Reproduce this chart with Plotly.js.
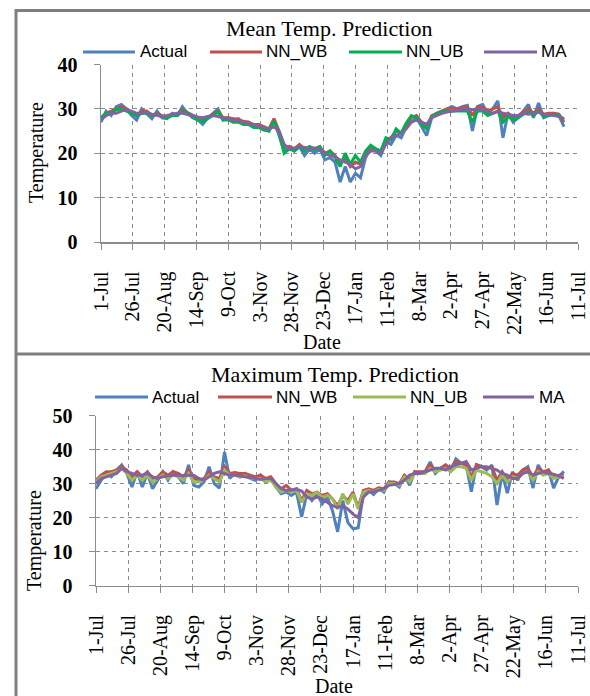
<!DOCTYPE html>
<html>
<head>
<meta charset="utf-8">
<script src="https://cdn.plot.ly/plotly-3.0.1.min.js"></script>
<style>
html,body{margin:0;padding:0;background:#fff;}
#chart{width:590px;height:696px;}
</style>
</head>
<body>
<div id="chart"></div>
<script>
// ---------- DATA (one sample every 4 days from 1-Jul) ----------
const START_DATE = '2010-07-01';
const STEP_DAYS = 4;
const seriesNames = ['Actual', 'NN_WB', 'NN_UB', 'MA'];
const tickStart = '2010-07-01';
const tickEnd = '2011-07-11';
const tickStepDays = 25;

// Mean temperature panel
const meanActual = [27,29.5,28.5,30.5,31,30,28.5,27.5,30,29,27.8,29.5,28,27.8,29,28.5,30.5,29,28,27.5,26.5,28,29,30,27.5,28,27.5,27.8,26.8,27,26,26.5,25.5,25,27.5,24,20.5,21.5,20.5,21.5,19.5,21,20,21,18.5,19,18,13.5,17,13.5,15.5,14.5,19,21,20.5,19.5,22.5,22,24,23.5,26,27,28,26,24,28,29,29.5,30,30.5,30,30.5,30.8,25,30.5,31,29,30,31.8,23.5,29,27,28,29.5,31,28,31.3,28,28.5,29,28.5,26];
const meanNNWB = [28,29,29.5,30,30.5,30,29,28.5,29.5,29.5,28.5,29,28.5,28,28.8,28.8,29.8,29.2,28.5,28,27.5,28,28.8,29.5,28,28,27.8,27.6,27.2,27,26.5,26.5,26,25.5,27.8,25,21.5,21.5,21,22,21,21.5,21,21.5,20,20.5,19.5,17.5,19,17,18,17.5,20,21.5,21,20.5,23,23.5,25,24.5,26.5,28,28.5,27,26,28.5,29,29.5,30,30.2,30,30.3,30.5,28.5,30.5,30.5,29.5,30,30.5,28,29,28,28.5,29.3,30,29,30,28.8,29,29,28.8,27];
const meanNNUB = [28,29,29,29.8,30,29.5,29,28.5,29,29,28.5,28.8,28.2,28,28.5,28.5,29.5,29,28.3,27.5,27.2,27.8,28.5,29.3,27.5,27.5,27,27,26.5,26.5,25.8,25.8,25.2,25,27.2,24.5,20,21,20.5,21.5,20.5,21.5,20.8,21.5,19.5,20.5,19,17,20,17.5,19.5,18,20.5,21.8,21,20.5,23.5,23,25.5,24.5,26.8,28.5,28,26.5,25.5,28.3,29,29.3,29.5,29.5,29.5,29.5,29.5,27,29.5,29.5,28.5,29,29.5,27,28.3,27.5,28,28.8,29.3,28.5,29.5,28.3,28.5,28.8,28.5,27.5];
const meanMA = [27.5,28.5,29,29,29.5,29.8,29.5,29,29,29.2,28.8,28.5,28.3,28.5,28.8,29,29,28.8,28.5,28.2,28,28.3,28.5,28.3,28,27.8,27.5,27.3,27,26.8,26.5,26.2,25.8,25.5,26,25,22,21,21.2,21.5,21.3,21,21.2,21,20,19.5,19.2,18.5,18,17.5,16.5,17,19.5,20.5,20.5,20,22,23.5,24,24.5,25.5,27,27.5,27,26.5,28,28.5,29,29.3,29.5,29.7,29.8,30,29.8,30,29.8,29.5,29,29.5,29,28.8,28.5,28.5,29,28.8,29,29.3,28.8,28.7,28.5,28.3,27.8];

// Maximum temperature panel
const maxActual = [28.5,31,33,32,34,35.5,33,29,33.5,29,33,28.5,31,33.5,31,33.5,32,30,35.5,29.5,29,30.5,35,30,28.7,39.3,31.5,33,32,33,31.5,31,32.5,30.5,31.5,29,27,27.5,26.5,27.5,20.2,27,25,27,24,26,22,15.8,25,18.5,16.7,17,27,28,26.8,28.5,27.5,30.5,30,29,32.5,29.5,33.5,33,33.5,36.4,33,34.5,35.5,34,37.3,36,35.5,27.6,35.6,35,34,35.5,23.7,33,27.2,33.5,31,34,35,28.7,35.5,33,34,28.7,32,33.6];
const maxNNWB = [31,32.5,33.5,33.5,34,35,34,32,33.5,32,33.5,31.5,32,33.5,32.5,33.5,33,32,34,31.5,31,31.5,33.5,32,31.5,35,33,33.3,33,33,32.5,32,32.5,31.5,32,30,28.5,29.5,28,28.5,25,28,27,27.5,26.5,27,25.5,23.5,26.5,25,27.5,23,28,28.5,28,28.8,28.5,30.5,30.5,30,32.5,31,33.5,33.5,33.5,35.5,34,34.5,35.5,34.5,36.5,36,35.5,32,35.5,35,34.5,35,31,33.5,31,33,32.5,34,34.5,32,34.5,33.5,34,32,32.5,32.5];
const maxNNUB = [30.5,32,32.5,33,33.5,34.5,33,31,32.5,31,32.5,30.5,31.5,32.5,31.5,32.5,32,31,33,30.5,30.5,31,32.5,31.5,30.5,34,32.5,32.5,32,32.3,31.5,31.5,31.5,30.5,31,29,27.5,28,27.5,28,24.5,27,26.5,27.5,26,26.5,25.5,22.5,27,24,27,22.5,27.5,28,27.5,28.3,28,30,30,29.5,32,30.5,33,33,33,34.5,33.5,34,34.5,33.5,35,35,34.5,31,34,33.5,33,32,30,32.5,30.5,32,31.5,33,33.5,31,33.5,32.5,33,31.5,32,32];
const maxMA = [30,31.5,32,32.5,33,34.5,33.5,33,32.5,32.5,33,32,31.5,32,32.3,32.5,32.5,32.3,32.5,32.5,31.5,31,32,33,33.5,33,32.5,32.5,32.3,32,31.8,31.5,31.2,31.5,31.5,30,28.5,28,28.2,28.3,27.8,26,25.5,26,25.5,24.5,23.5,23,23.5,22.5,21,20,26,27.5,27.5,28,28.5,29.5,29.8,30,31,32.5,33,33,33.5,34,34.5,34.5,34,35,35.5,36,36.5,34,34.5,35,35,34.5,34,33,32.5,31.5,31.5,33,33.5,32.5,33,33.5,33,32.8,32.3,31.5];

const meanYTicks = [0, 10, 20, 30, 40];
const maxYTicks = [0, 10, 20, 30, 40, 50];
const panelTitles = ['Mean Temp. Prediction', 'Maximum Temp. Prediction'];
const xTitle = 'Date';
const yTitle = 'Temperature';

// ---------- STYLE ----------
const W = 590, H = 696;
const colorsTop = ['#4F81BD', '#C0504D', '#00B050', '#8064A2'];
const colorsBottom = ['#4F81BD', '#C0504D', '#9BBB59', '#8064A2'];
const GRID = '#8c8c8c';
const SERIF = 'Liberation Serif, Times New Roman, serif';
const SANS = 'Liberation Sans, Arial, sans-serif';

function px(x) { return x / W; }
function py(y) { return 1 - y / H; }

const dates = meanActual.map((_, i) => {
  const t = Date.parse(START_DATE + 'T00:00:00Z') + i * STEP_DAYS * 86400000;
  return new Date(t).toISOString().slice(0, 10);
});

const topSeries = [meanActual, meanNNWB, meanNNUB, meanMA];
const botSeries = [maxActual, maxNNWB, maxNNUB, maxMA];

const traces = [];
topSeries.forEach((ys, k) => traces.push({
  type: 'scatter', mode: 'lines', name: seriesNames[k], x: dates, y: ys,
  xaxis: 'x', yaxis: 'y', showlegend: false,
  line: { color: colorsTop[k], width: 3 }
}));
botSeries.forEach((ys, k) => traces.push({
  type: 'scatter', mode: 'lines', name: seriesNames[k], x: dates, y: ys,
  xaxis: 'x2', yaxis: 'y2', showlegend: false,
  line: { color: colorsBottom[k], width: 3 }
}));

function xAxis(domain, anchor) {
  return {
    domain: domain, anchor: anchor, type: 'date',
    range: [tickStart, tickEnd], tick0: tickStart, dtick: tickStepDays * 86400000,
    tickformat: '%-d-%b', tickangle: -90,
    ticks: 'outside', ticklen: 6, tickcolor: GRID, tickwidth: 1,
    showline: true, linecolor: GRID, linewidth: 1.5,
    showgrid: true, gridcolor: GRID, griddash: '4px,4px', gridwidth: 1,
    zeroline: false, ticklabelstandoff: 14,
    tickfont: { family: SERIF, size: 20, color: '#000' }
  };
}
function yAxis(domain, anchor, ticks) {
  return {
    domain: domain, anchor: anchor,
    range: [ticks[0], ticks[ticks.length - 1]], tickvals: ticks,
    ticks: 'outside', ticklen: 6, tickcolor: GRID, tickwidth: 1,
    showline: true, linecolor: GRID, linewidth: 1.5,
    showgrid: true, gridcolor: GRID, griddash: '4px,4px', gridwidth: 1,
    zeroline: false, ticklabelstandoff: 12,
    tickfont: { family: SERIF, size: 20, color: '#000', weight: 'bold' }
  };
}

const shapes = [];
const annotations = [];

// frame
const FRAME = '#7f7f7f';
shapes.push({ type: 'line', xref: 'paper', yref: 'paper', x0: px(16), x1: px(600), y0: py(10.5), y1: py(10.5), line: { color: FRAME, width: 3 } });
shapes.push({ type: 'line', xref: 'paper', yref: 'paper', x0: px(16), x1: px(600), y0: py(354), y1: py(354), line: { color: FRAME, width: 3 } });
shapes.push({ type: 'line', xref: 'paper', yref: 'paper', x0: px(16), x1: px(16), y0: py(9), y1: py(700), line: { color: FRAME, width: 3 } });

// legends (drawn in the Excel style: long line sample followed by the name)
function legend(yc, items, colors) {
  items.forEach((it, k) => {
    shapes.push({ type: 'line', xref: 'paper', yref: 'paper', x0: px(it[0]), x1: px(it[1]), y0: py(yc), y1: py(yc), line: { color: colors[k], width: 3 } });
    annotations.push({ xref: 'paper', yref: 'paper', x: px(it[2]), y: py(yc), xanchor: 'left', yanchor: 'middle', showarrow: false, text: seriesNames[k], font: { family: SANS, size: 17, color: '#000' } });
  });
}
legend(52, [[83, 135, 138], [210, 262, 264], [349, 402, 404], [484, 537, 539]], colorsTop);
legend(397, [[95, 148, 150], [218, 272, 274], [353, 406, 408], [483, 534, 537]], colorsBottom);

// panel titles
annotations.push({ xref: 'paper', yref: 'paper', x: px(329), y: py(29), xanchor: 'center', yanchor: 'middle', showarrow: false, text: panelTitles[0], font: { family: SERIF, size: 22, color: '#000' } });
annotations.push({ xref: 'paper', yref: 'paper', x: px(335), y: py(374), xanchor: 'center', yanchor: 'middle', showarrow: false, text: panelTitles[1], font: { family: SERIF, size: 22, color: '#000' } });

// axis titles
annotations.push({ xref: 'paper', yref: 'paper', x: px(36), y: py(153), xanchor: 'center', yanchor: 'middle', textangle: -90, showarrow: false, text: yTitle, font: { family: SERIF, size: 20, color: '#000' } });
annotations.push({ xref: 'paper', yref: 'paper', x: px(34), y: py(541), xanchor: 'center', yanchor: 'middle', textangle: -90, showarrow: false, text: yTitle, font: { family: SERIF, size: 20, color: '#000' } });
annotations.push({ xref: 'paper', yref: 'paper', x: px(322), y: py(342), xanchor: 'center', yanchor: 'middle', showarrow: false, text: xTitle, font: { family: SERIF, size: 20, color: '#000' } });
annotations.push({ xref: 'paper', yref: 'paper', x: px(334), y: py(686), xanchor: 'center', yanchor: 'middle', showarrow: false, text: xTitle, font: { family: SERIF, size: 20, color: '#000' } });

const layout = {
  width: W, height: H,
  margin: { l: 0, r: 0, t: 0, b: 0 },
  paper_bgcolor: '#fff', plot_bgcolor: '#fff',
  showlegend: false,
  xaxis: xAxis([px(101), px(578)], 'y'),
  yaxis: yAxis([py(242), py(64.5)], 'x', meanYTicks),
  xaxis2: xAxis([px(96), px(578)], 'y2'),
  yaxis2: yAxis([py(585.5), py(415.7)], 'x2', maxYTicks),
  shapes: shapes,
  annotations: annotations
};

Plotly.newPlot('chart', traces, layout, { staticPlot: true, displayModeBar: false });
</script>
</body>
</html>
